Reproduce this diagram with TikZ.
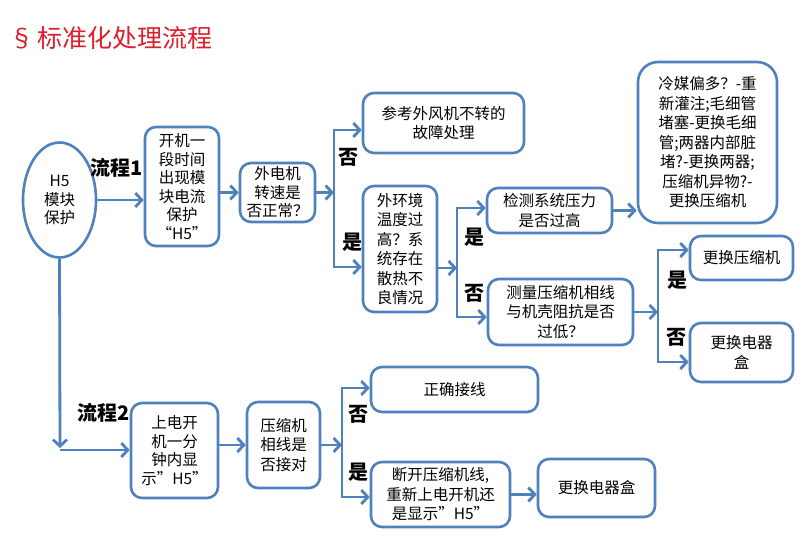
\documentclass[tikz,border=0pt]{standalone}
\usepackage{fontspec}
\setmainfont{Noto Sans CJK SC}
\usetikzlibrary{arrows.meta,shapes.geometric}
\definecolor{myblue}{RGB}{79,129,189}
\definecolor{myred}{RGB}{220,30,45}
\tikzset{
  box/.style={draw=myblue, line width=2.6pt, rounded corners=11pt, align=center, inner sep=0pt, fill=white,
    font=\fontsize{15.5}{19.5}\selectfont, text=black},
  conn/.style={draw=myblue, line width=2.8pt},
  arr/.style={conn, -{Straight Barb[length=6.5pt,width=14pt]}},
  lab/.style={font=\fontsize{20}{22}\selectfont\bfseries, text=black, inner sep=0pt},
}
\begin{document}
\begin{tikzpicture}[x=1pt,y=-1pt]
\useasboundingbox (0,0) rectangle (805,546);
\fill[white] (0,0) rectangle (805,546);
% title
\node[anchor=west, text=myred, font=\fontsize{25}{28}\selectfont, inner sep=0pt] (title) at (9,38) {§\hspace{-2pt} 标准化处理流程};
% nodes
\node[draw=myblue, line width=2.6pt, ellipse, minimum width=73pt, minimum height=115pt, inner sep=0pt, align=center, font=\fontsize{15.5}{18.5}\selectfont] (ell) at (59.5,200) {H5\\模块\\保护};
\node[box, minimum width=74pt, minimum height=119pt, font=\fontsize{15.5}{18.5}\selectfont] (b1) at (182,186.5) {开机一\\段时间\\出现模\\块电流\\保护\\“H5”};
\node[box, minimum width=75pt, minimum height=59pt, font=\fontsize{15.5}{18.5}\selectfont] (b2) at (277.5,192.5) {外电机\\转速是\\否正常？};
\node[box, minimum width=161pt, minimum height=60pt] (b3) at (443.5,123) {参考外风机不转的\\故障处理};
\node[box, minimum width=74pt, minimum height=126pt] (b4) at (400,249) {外环境\\温度过\\高？系\\统存在\\散热不\\良情况};
\node[box, minimum width=125pt, minimum height=45pt] (b5) at (549.5,210.5) {检测系统压力\\是否过高};
\node[box, minimum width=145pt, minimum height=66pt] (b6) at (560.5,312) {测量压缩机相线\\与机壳阻抗是否\\过低？};
\node[box, rounded corners=20pt, minimum width=139pt, minimum height=161pt] (b7) at (707.5,142.5) {冷媒偏多？-重\\新灌注;毛细管\\堵塞-更换毛细\\管;两器内部脏\\堵?-更换两器;\\压缩机异物?-\\更换压缩机};
\node[box, minimum width=103pt, minimum height=44pt] (b8) at (741.5,258) {更换压缩机};
\node[box, minimum width=103pt, minimum height=59pt] (b9) at (741.5,352.5) {更换电器\\盒};
\node[box, minimum width=87pt, minimum height=95pt, font=\fontsize{15.5}{18.5}\selectfont] (b10) at (174.5,450.5) {上电开\\机一分\\钟内显\\示”H5”};
\node[box, minimum width=73pt, minimum height=86pt] (b11) at (283.5,445) {压缩机\\相线是\\否接对};
\node[box, minimum width=167pt, minimum height=45pt] (b12) at (454.5,389.5) {正确接线};
\node[box, minimum width=139pt, minimum height=65pt] (b13) at (440.5,494.5) {断开压缩机线,\\重新上电开机还\\是显示”H5”};
\node[box, minimum width=117pt, minimum height=58pt] (b14) at (596.5,488) {更换电器盒};
% labels
\node[lab] (l1) at (117,168) {流程1};
\node[lab] (l2) at (104,413) {流程2};
\node[lab] (n1) at (348,157) {否};
\node[lab] (y1) at (352,242) {是};
\node[lab] (y2) at (474,237) {是};
\node[lab] (n2) at (474,293) {否};
\node[lab] (y3) at (677,280) {是};
\node[lab] (n3) at (676,337) {否};
\node[lab] (n4) at (358,414) {否};
\node[lab] (y4) at (358,472) {是};
% bracket coordinates
\coordinate (br1t) at (334,130);
\coordinate (br1b) at (334,267);
\coordinate (br2t) at (457,208);
\coordinate (br2b) at (457,317);
\coordinate (j2) at (457,268);
\coordinate (br3t) at (658,250);
\coordinate (br3b) at (658,362);
\coordinate (br4t) at (342,388);
\coordinate (br4b) at (342,497);
\coordinate (f2) at (60,448);
\coordinate (f2h) at (60,450);
% connectors flow 1
\draw[arr] (ell.east) -- (ell.east -| b1.west);
\draw[arr] (b2.west -| b1.east) -- (b2.west);
\draw[arr] (b2.east) -- (b2.east -| br1t);
\draw[conn, line cap=rect] (br1t) -- (br1b);
\draw[arr] (br1t) -- (br1t -| b3.west);
\draw[arr] (br1b) -- (br1b -| b4.west);
\draw[arr] (b4.east |- j2) -- (j2);
\draw[conn, line cap=rect] (br2t) -- (br2b);
\draw[arr] (br2t) -- (br2t -| b5.west);
\draw[arr] (br2b) -- (br2b -| b6.west);
\draw[arr] (b5.east) -- (b5.east -| b7.west);
\draw[arr] (b6.east) -- (b6.east -| br3t);
\draw[conn, line cap=rect] (br3t) -- (br3b);
\draw[arr] (br3t) -- (br3t -| b8.west);
\draw[arr] (br3b) -- (br3b -| b9.west);
% connectors flow 2
\draw[arr] (ell.south) -- (f2);
\draw[arr] (f2h) -- (f2h -| b10.west);
\draw[arr] (b11.west -| b10.east) -- (b11.west);
\draw[arr] (b11.east) -- (b11.east -| br4t);
\draw[conn, line cap=rect] (br4t) -- (br4b);
\draw[arr] (br4t) -- (br4t -| b12.west);
\draw[arr] (br4b) -- (br4b -| b13.west);
\draw[arr] (b13.east) -- (b13.east -| b14.west);
\end{tikzpicture}
\end{document}
